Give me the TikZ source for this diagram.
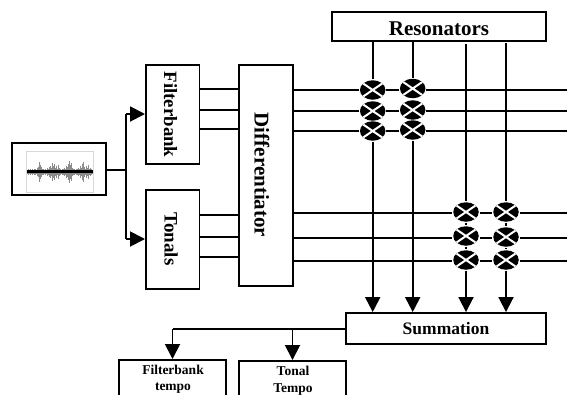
\documentclass[tikz,border=0pt]{standalone}
\usepackage{fontspec}
\setmainfont{Liberation Serif}
\usetikzlibrary{shapes.geometric,arrows.meta}
\tikzset{
  boxed/.style={draw=black,line width=1.9pt,fill=white,rectangle,inner sep=0pt,font=\bfseries},
  wire/.style={draw=black,line width=1.9pt},
  arrowed/.style={wire,-{Triangle[length=15pt,width=15pt]}},
  mult/.style={ellipse,fill=black,draw=none,minimum width=25.5pt,minimum height=19.5pt,inner sep=0pt,outer sep=1pt,
    path picture={\draw[white,line width=2pt]
      ([shift={(-11pt,-7.5pt)}]path picture bounding box.center) -- ([shift={(11pt,7.5pt)}]path picture bounding box.center)
      ([shift={(-11pt,7.5pt)}]path picture bounding box.center) -- ([shift={(11pt,-7.5pt)}]path picture bounding box.center);}},
  labelbig/.style={font=\fontsize{#1}{#1}\selectfont\bfseries},
  labelsmall/.style={font=\fontsize{13.5}{16.5}\selectfont\bfseries,align=center}
}
\begin{document}
\begin{tikzpicture}[x=1pt,y=-1pt]
\useasboundingbox (0,0) rectangle (567,394);
\clip (0,0) rectangle (567,394);
% boxes
\node[boxed,minimum width=94pt,minimum height=52pt] (wave) at (59,169) {};
\node[boxed,minimum width=53.5pt,minimum height=99pt] (fb) at (172.7,114.5) {};
\node[labelbig=18.8,rotate=-90] (fbl) at (170.5,114.5) {Filterbank};
\node[boxed,minimum width=53.5pt,minimum height=99pt] (ton) at (172.7,239.5) {};
\node[labelbig=19,rotate=-90] (tonl) at (171,239) {Tonals};
\node[boxed,minimum width=54pt,minimum height=221pt] (diff) at (266,175.5) {};
\node[labelbig=21,rotate=-90] (diffl) at (262,175) {Differentiator};
\node[boxed,minimum width=214pt,minimum height=29pt] (res) at (439,26.5) {};
\node[labelbig=21] (resl) at (439,28.5) {Resonators};
\node[boxed,minimum width=200pt,minimum height=31pt] (sum) at (446,328.5) {};
\node[labelbig=17.5] (suml) at (446,328.5) {Summation};
\node[boxed,minimum width=107pt,minimum height=50pt,anchor=north] (ft) at (172.5,359) {};
\node[boxed,minimum width=107pt,minimum height=50pt,anchor=north] (tt) at (292.5,360) {};
\node[labelsmall] (ftl) at (173,379) {Filterbank\\tempo};
\node[labelsmall] (ttl) at (293,380.5) {Tonal\\Tempo};
% waveform
\draw[gray!30,line width=.6pt] (26.5,151.5) rectangle (93,192);
\foreach \x/\h in {27/2,28/3,29/2,30/3,31/2,32/3,33/2,34/3,35/3,36/2,37/4,38/5,39/10,40/7,41/5,42/3,43/3,44/2,45/3,46/2,47/4,48/3,49/5,50/6,51/4,52/9,53/6,54/8,55/4,56/6,57/3,58/7,59/4,60/3,61/2,62/3,63/3,64/4,65/3,66/6,67/5,68/8,69/11,70/7,71/9,72/4,73/3,74/3,75/2,76/3,77/3,78/4,79/3,80/6,81/4,82/8,83/10,84/5,85/3,86/6,87/4,88/7,89/3,90/4,91/3,92/2}{
  \draw[black!45,line width=.8pt] (\x,171.5-\h) -- (\x,171.5+\h);
}
\draw[black,line width=3pt] (26.5,171.5) -- (93,171.5);
% multipliers
\node[mult] (a1) at (372.7,90) {};
\node[mult] (a2) at (372.7,111) {};
\node[mult] (a3) at (372.7,131) {};
\node[mult] (b1) at (412.7,88.5) {};
\node[mult] (b2) at (412.7,110) {};
\node[mult] (b3) at (412.7,130) {};
\node[mult] (c1) at (466,212) {};
\node[mult] (c2) at (466,236) {};
\node[mult] (c3) at (466,260) {};
\node[mult] (d1) at (506,212) {};
\node[mult] (d2) at (506,237) {};
\node[mult] (d3) at (506,260) {};
% free ends
\coordinate (w1) at (126,170);
\coordinate (t1) at (126,114);
\coordinate (t2) at (126,239);
\coordinate (e1) at (567,90);
\coordinate (e2) at (567,111);
\coordinate (e3) at (567,131);
\coordinate (e4) at (567,213);
\coordinate (e5) at (567,238);
\coordinate (e6) at (567,261);
\coordinate (r3) at (466,44);
\coordinate (r4) at (506,43);
\coordinate (o1) at (346,329);
\coordinate (o2) at (172.5,329);
\coordinate (o3) at (292.5,329);
% input
\draw[wire] (wave.east |- w1) -- (w1);
\draw[wire] (t1) -- (t2);
\draw[arrowed] (t1) -- (fb.west |- t1);
\draw[arrowed] (t2) -- (ton.west |- t2);
% filter to differentiator
\foreach \y in {89,110,129}{\draw[wire] (fb.east |- 0,\y) -- (diff.west |- 0,\y);}
\foreach \y in {215,237,257}{\draw[wire] (ton.east |- 0,\y) -- (diff.west |- 0,\y);}
% horizontal wires
\foreach \p/\q/\e in {a1/b1/e1,a2/b2/e2,a3/b3/e3,c1/d1/e4,c2/d2/e5,c3/d3/e6}{
  \draw[wire] (diff.east |- \e) -- (\p.west |- \e);
  \draw[wire] (\p.east |- \e) -- (\q.west |- \e);
  \draw[wire] (\q.east |- \e) -- (\e);
}
% vertical wires
\draw[wire] (res.south -| a1) -- (a1);
\draw[wire] (res.south -| b1) -- (b1);
\draw[wire] (r3) -- (c1);
\draw[wire] (r4) -- (d1);
\draw[wire] (c1) -- (c2); \draw[wire] (c2) -- (c3);
\draw[wire] (d1) -- (d2); \draw[wire] (d2) -- (d3);
\draw[arrowed] (a3) -- (sum.north -| a3);
\draw[arrowed] (b3) -- (sum.north -| b3);
\draw[arrowed] (c3) -- (sum.north -| c3);
\draw[arrowed] (d3) -- (sum.north -| d3);
% output
\draw[wire] (o1) -- (o2);
\draw[arrowed] (o2) -- (ft.north);
\draw[arrowed] (o3) -- (tt.north);
\end{tikzpicture}
\end{document}
